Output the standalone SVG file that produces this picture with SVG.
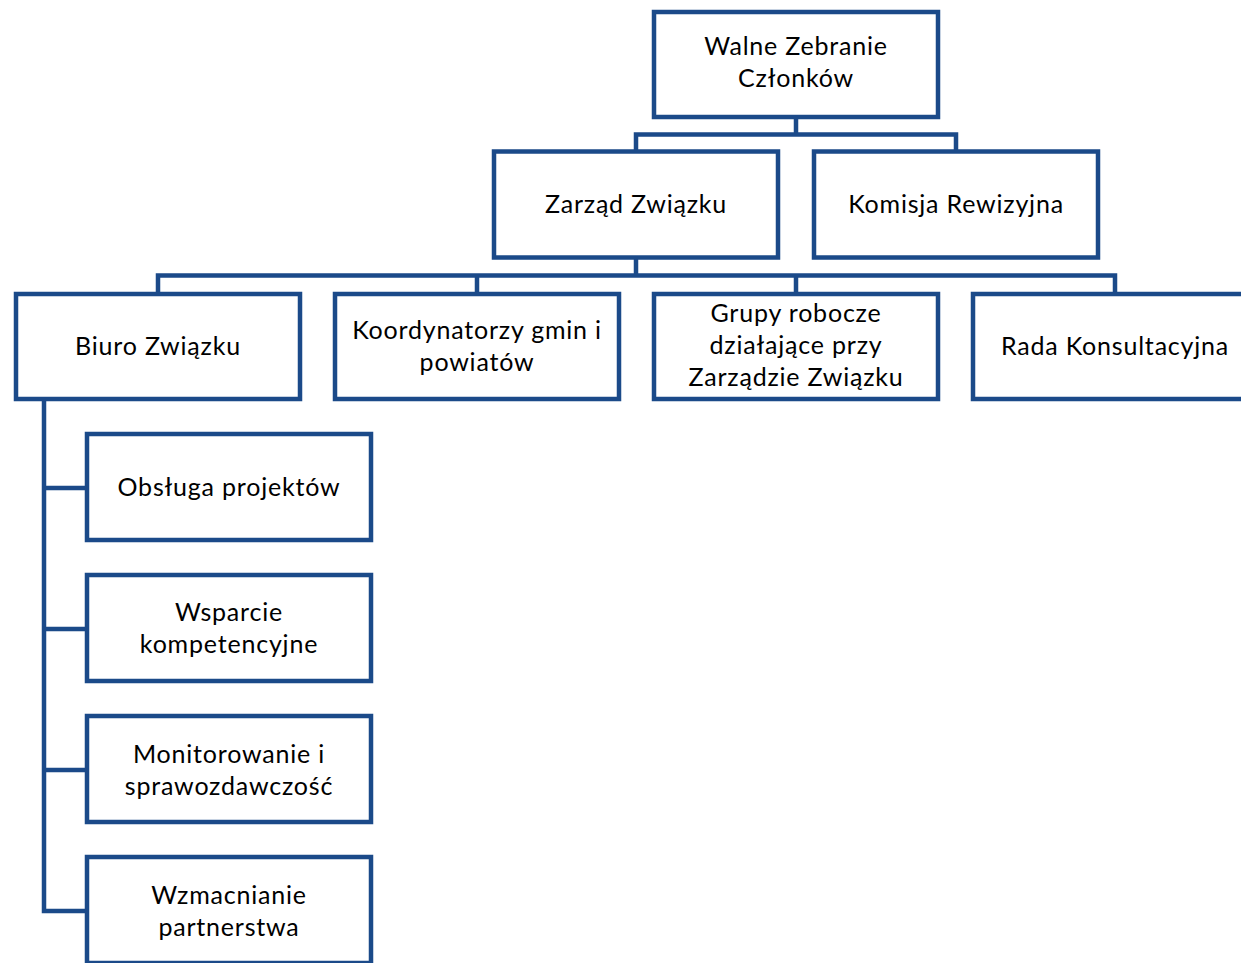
<svg xmlns="http://www.w3.org/2000/svg" width="1241" height="963" viewBox="0 0 1241 963">
<style>
.box{fill:#ffffff;stroke:#1b4a89;stroke-width:4.5}
.con{fill:none;stroke:#1b4a89;stroke-width:4.5;stroke-linecap:square;stroke-linejoin:miter}
.t{font-family:Lato,"Open Sans","Liberation Sans",sans-serif;font-size:25px;letter-spacing:0.8px;fill:#000000;text-anchor:middle}
</style>
<rect width="1241" height="963" fill="#ffffff"/>
<g id="connectors">
<path class="con" d="M796,119 V134.5 M636,134.5 H956 M636,134.5 V149 M956,134.5 V149"/>
<path class="con" d="M636,260 V275.5 M158,275.5 H1115 M158,275.5 V292 M477,275.5 V292 M796,275.5 V292 M1115,275.5 V292"/>
<path class="con" d="M44,401 V911 M44,488 H87 M44,629 H87 M44,770 H87 M44,911 H87"/>
</g>
<g id="n-walne"><rect class="box" x="654" y="12" width="284" height="105"/><text class="t" x="796" y="55">Walne Zebranie</text><text class="t" x="796" y="87">Członków</text></g>
<g id="n-zarzad"><rect class="box" x="494" y="151.5" width="284" height="106"/><text class="t" x="636" y="213">Zarząd Związku</text></g>
<g id="n-komisja"><rect class="box" x="814" y="151.5" width="284" height="106"/><text class="t" x="956" y="213">Komisja Rewizyjna</text></g>
<g id="n-biuro"><rect class="box" x="16" y="294" width="284" height="105"/><text class="t" x="158" y="355">Biuro Związku</text></g>
<g id="n-koord"><rect class="box" x="335" y="294" width="284" height="105"/><text class="t" x="477" y="339">Koordynatorzy gmin i</text><text class="t" x="477" y="371">powiatów</text></g>
<g id="n-grupy"><rect class="box" x="654" y="294" width="284" height="105"/><text class="t" x="796" y="322">Grupy robocze</text><text class="t" x="796" y="354">działające przy</text><text class="t" x="796" y="386">Zarządzie Związku</text></g>
<g id="n-rada"><rect class="box" x="973" y="294" width="284" height="105"/><text class="t" x="1115" y="355">Rada Konsultacyjna</text></g>
<g id="n-obsluga"><rect class="box" x="87" y="434" width="284" height="106"/><text class="t" x="229" y="496">Obsługa projektów</text></g>
<g id="n-wsparcie"><rect class="box" x="87" y="575" width="284" height="106"/><text class="t" x="229" y="621">Wsparcie</text><text class="t" x="229" y="653">kompetencyjne</text></g>
<g id="n-monit"><rect class="box" x="87" y="716" width="284" height="106"/><text class="t" x="229" y="763">Monitorowanie i</text><text class="t" x="229" y="795">sprawozdawczość</text></g>
<g id="n-wzmac"><rect class="box" x="87" y="857" width="284" height="106"/><text class="t" x="229" y="904">Wzmacnianie</text><text class="t" x="229" y="936">partnerstwa</text></g>
</svg>
